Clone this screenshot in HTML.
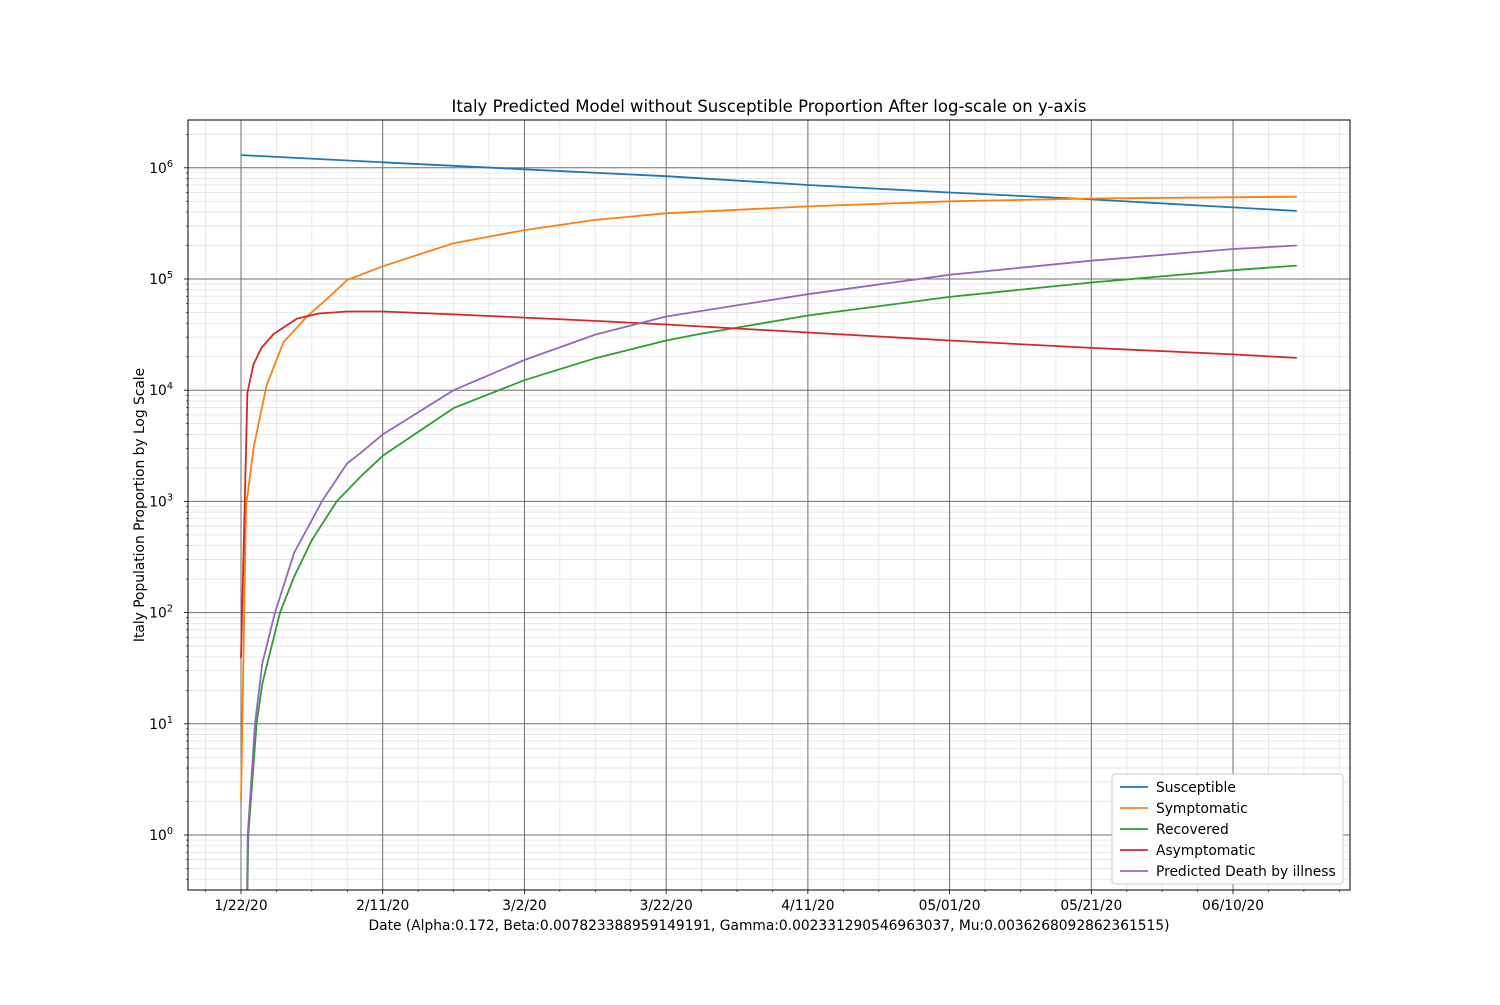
<!DOCTYPE html>
<html><head><meta charset="utf-8"><style>
body{margin:0;background:#fff;}
svg{font-family:"DejaVu Sans","Liberation Sans",sans-serif;}
</style></head><body>
<svg id="chart" width="1500" height="1000" viewBox="0 0 1500 1000">
<defs><clipPath id="clip"><rect x="188" y="120" width="1162" height="770"/></clipPath></defs>
<text x="769" y="112" text-anchor="middle" font-size="16.5">Italy Predicted Model without Susceptible Proportion After log-scale on y-axis</text>
<text x="769" y="930" text-anchor="middle" font-size="13.8">Date (Alpha:0.172, Beta:0.007823388959149191, Gamma:0.002331290546963037, Mu:0.0036268092862361515)</text>
<text transform="translate(144,505) rotate(-90)" text-anchor="middle" font-size="13.8">Italy Population Proportion by Log Scale</text>
<g id="grid"></g><g id="series" clip-path="url(#clip)"></g>
<rect x="188" y="120" width="1162" height="770" fill="none" stroke="#000" stroke-width="1"/>
<g id="ticks"></g><g id="legend"></g>
</svg>
<script>
const xTickDays=[0,20,40,60,80,100,120,140];
const xTickLabels=["1/22/20","2/11/20","3/2/20","3/22/20","4/11/20","05/01/20","05/21/20","06/10/20"];
const yTickExps=[0,1,2,3,4,5,6];
const seriesNames=["Susceptible","Symptomatic","Recovered","Asymptomatic","Predicted Death by illness"];
const seriesColors=["#1f77b4","#ff7f0e","#2ca02c","#d62728","#9467bd"];
const susDays=[0,20,40,60,80,100,120,140,149];
const susVals=[1.3e6,1.12e6,9.7e5,8.4e5,7.0e5,6.0e5,5.2e5,4.4e5,4.1e5];
const symDays=[0,0.7,1.8,3.6,6,8.3,9.3,12,15,20,30,40,50,60,80,100,120,149];
const symVals=[2,900,3100,1.1e4,2.7e4,3.9e4,4.6e4,6.5e4,9.8e4,1.3e5,2.1e5,2.75e5,3.4e5,3.9e5,4.5e5,5.0e5,5.3e5,5.5e5];
const recDays=[0.9,1.03,2.2,3,5.5,7.5,10,13.5,16.8,20,30,40,50,60,64.7,80,100,120,140,149];
const recVals=[0.3,1,10,23,100,210,450,1000,1650,2570,6900,1.23e4,1.94e4,2.8e4,3.2e4,4.7e4,6.9e4,9.3e4,1.2e5,1.32e5];
const asyDays=[0,0.9,1.75,2.9,4.6,7.9,11,15,20,30,40,50,60,80,100,120,140,149];
const asyVals=[39,9500,1.7e4,2.4e4,3.2e4,4.4e4,4.9e4,5.1e4,5.1e4,4.8e4,4.5e4,4.2e4,3.9e4,3.3e4,2.8e4,2.4e4,2.1e4,1.95e4];
const dthDays=[0.85,0.95,1.98,3,4.8,7.5,10,11.4,15,16.8,20,30,40,50,60,80,100,120,140,149];
const dthVals=[0.3,1,10,35,100,345,680,1000,2200,2700,4000,1e4,1.87e4,3.16e4,4.6e4,7.3e4,1.09e5,1.46e5,1.86e5,2.0e5];

const NS="http://www.w3.org/2000/svg";
const X=d=>241+7.086*d;
const Y=v=>835-111.2*Math.log10(v);
function mk(tag,attrs,parent){const e=document.createElementNS(NS,tag);for(const k in attrs)e.setAttribute(k,attrs[k]);parent.appendChild(e);return e;}
const grid=document.getElementById('grid'),ticks=document.getElementById('ticks'),ser=document.getElementById('series'),leg=document.getElementById('legend');
for(let e=-1;e<=6;e++)for(let m=2;m<=9;m++){const y=Y(m*Math.pow(10,e));if(y<120||y>890)continue;
 const l=mk('line',{x1:188,x2:1350,y1:y,y2:y,stroke:'#e3e3e3','stroke-width':0.8},grid);
 
 
 const t=mk('line',{x1:186,x2:188,y1:y,y2:y,stroke:'#000','stroke-width':0.6},ticks);
 
 }
for(let d=-5;d<=155;d+=5){if(d%20===0)continue;const x=X(d);if(x<188||x>1350)continue;
 const l=mk('line',{x1:x,x2:x,y1:120,y2:890,stroke:'#e3e3e3','stroke-width':0.8},grid);
 
 
 const t=mk('line',{x1:x,x2:x,y1:890,y2:892,stroke:'#000','stroke-width':0.6},ticks);
 
 }
yTickExps.forEach(e=>{const y=Y(Math.pow(10,e));
 const l=mk('line',{x1:188,x2:1350,y1:y,y2:y,stroke:'#6e6e6e','stroke-width':1},grid);
 
 
 const t=mk('line',{x1:184,x2:188,y1:y,y2:y,stroke:'#000','stroke-width':0.8},ticks);
 
 
 const tx=mk('text',{x:173,y:y+5,'text-anchor':'end','font-size':13.8},ticks);
 
 
 tx.textContent='10';
 const sp=mk('tspan',{dy:-6,'font-size':9.7},tx);sp.textContent=String(e);});
xTickDays.forEach((d,i)=>{const x=X(d);
 const l=mk('line',{x1:x,x2:x,y1:120,y2:890,stroke:'#6e6e6e','stroke-width':1},grid);
 
 
 const t=mk('line',{x1:x,x2:x,y1:890,y2:894,stroke:'#000','stroke-width':0.8},ticks);
 
 
 const tx=mk('text',{x:x,y:910,'text-anchor':'middle','font-size':13.8},ticks);
 
 
 tx.textContent=xTickLabels[i];});
const all=[[susDays,susVals],[symDays,symVals],[recDays,recVals],[asyDays,asyVals],[dthDays,dthVals]];
all.forEach((s,i)=>{const pts=s[0].map((d,j)=>X(d).toFixed(1)+','+Y(s[1][j]).toFixed(1)).join(' ');
 const p=mk('polyline',{points:pts,fill:'none',stroke:seriesColors[i],'stroke-width':1.8,'stroke-linejoin':'round'},ser);
 
 });
const box=mk('rect',{x:1112,y:774,width:231,height:110,fill:'#fff',stroke:'#ccc',rx:3},leg);


seriesNames.forEach((n,i)=>{const y=787+21*i;
 const l=mk('line',{x1:1120,x2:1148,y1:y,y2:y,stroke:seriesColors[i],'stroke-width':1.8},leg);
 
 
 const t=mk('text',{x:1156,y:y+5,'font-size':13.8},leg);
 
 
 t.textContent=n;});
</script>
</body></html>
